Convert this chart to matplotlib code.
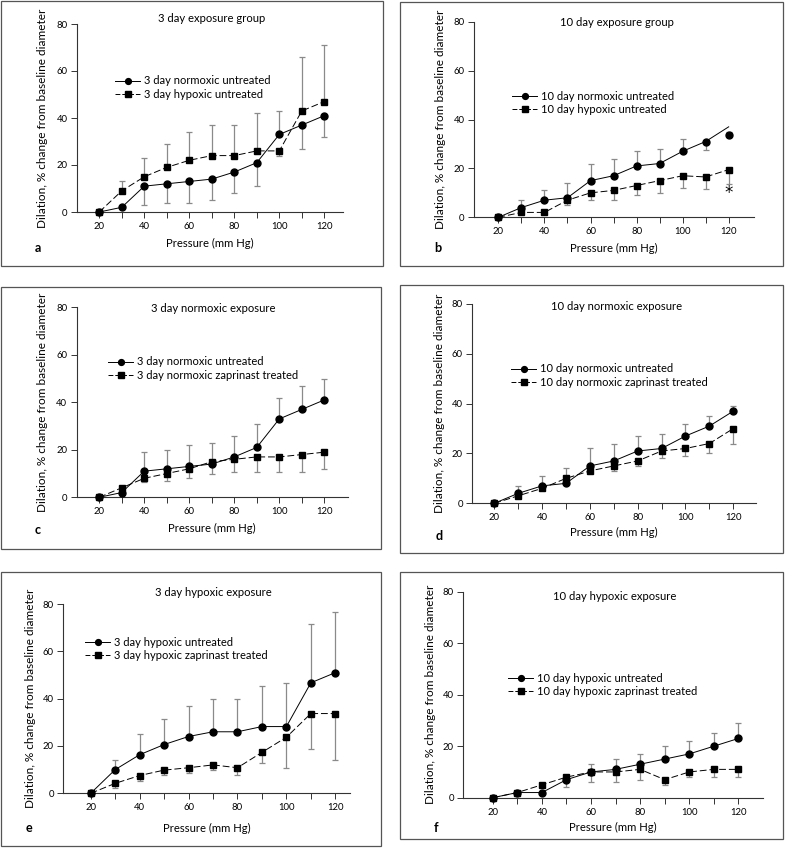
import numpy as np
import matplotlib
matplotlib.use('Agg')
import matplotlib.pyplot as plt
from matplotlib.patches import Rectangle
from matplotlib.lines import Line2D

plt.rcParams['font.family'] = ['Lato', 'DejaVu Sans']

# pressure steps (mm Hg)
pressure = [20, 30, 40, 50, 60, 70, 80, 90, 100, 110, 120]

# a: 3 day exposure group
a_norm = [0, 2, 11, 12, 13, 14, 17, 21, 33, 37, 41]
a_norm_lo = [0, 0, 8, 8, 9, 9, 9, 10, 0, 10, 9]
a_norm_hi = [0, 0, 0, 0, 0, 0, 0, 0, 10, 0, 0]
a_hyp = [0, 9, 15, 19, 22, 24, 24, 26, 26, 43, 47]
a_hyp_lo = [0, 0, 0, 0, 0, 0, 0, 0, 2, 0, 0]
a_hyp_hi = [0, 4, 8, 10, 12, 13, 13, 16, 0, 23, 24]

# b: 10 day exposure group
b_norm = [0, 4, 7, 8, 15, 17, 21, 22, 27, 31, 33.5]
b_norm_line = [0, 4, 7, 8, 15, 17, 21, 22, 27, 31, 37]
b_norm_lo = [0, 0, 0, 0, 0, 0, 0, 0, 0, 3.5, 0]
b_norm_hi = [0, 3, 4, 6, 7, 7, 6, 6, 5, 0, 1.5]
b_hyp = [0, 2, 2, 7, 10, 11, 13, 15, 17, 16.5, 19.5]
b_hyp_lo = [0, 0, 0, 2, 3, 4, 4, 5, 5, 5, 6]
b_hyp_hi = [0, 0, 0, 0, 0, 0, 0, 0, 0, 0, 0]

# c: 3 day normoxic exposure
c_norm = [0, 2, 11, 12, 13, 14, 17, 21, 33, 37, 41]
c_norm_lo = [0, 0, 0, 0, 0, 0, 0, 0, 0, 0, 0]
c_norm_hi = [0, 0, 8, 8, 9, 9, 9, 10, 9, 10, 9]
c_zap = [0, 4, 8, 10, 12, 15, 16, 17, 17, 18, 19]
c_zap_lo = [0, 1, 1.5, 3, 4, 5, 5.5, 6.5, 6.5, 7.5, 7]
c_zap_hi = [0, 0, 0, 0, 0, 0, 0, 0, 0, 0, 0]

# d: 10 day normoxic exposure
d_norm = [0, 4, 7, 8, 15, 17, 21, 22, 27, 31, 37]
d_norm_lo = [0, 0, 0, 0, 0, 0, 0, 0, 0, 0, 0]
d_norm_hi = [0, 3, 4, 6, 7, 7, 6, 6, 5, 4, 2]
d_zap = [0, 3, 6, 10, 13, 15, 17, 21, 22, 24, 30]
d_zap_lo = [0, 0, 0, 0, 0, 2, 2, 3, 3, 4, 6]
d_zap_hi = [0, 0, 0, 0, 0, 0, 0, 0, 0, 0, 0]

# e: 3 day hypoxic exposure
e_hyp = [0, 10, 16.3, 20.6, 24, 26, 26, 28.2, 28.2, 46.7, 51]
e_hyp_lo = [0, 0, 0, 0, 0, 0, 0, 0, 0, 0, 0]
e_hyp_hi = [0, 4, 8.6, 10.7, 12.7, 14, 14, 17.3, 18.3, 24.7, 25.8]
e_zap = [0, 4.2, 7.5, 9.8, 10.8, 12, 10.8, 17.3, 23.7, 33.7, 33.7]
e_zap_lo = [0, 2.1, 2.1, 2.1, 2.1, 2.1, 3.1, 4.3, 12.9, 15.1, 19.8]
e_zap_hi = [0, 0, 0, 0, 0, 0, 0, 0, 0, 0, 0]

# f: 10 day hypoxic exposure
f_hyp = [0, 2, 2, 7, 10, 11, 13, 15, 17, 20, 23]
f_hyp_lo = [0, 0, 0, 3, 0, 0, 0, 0, 0, 0, 0]
f_hyp_hi = [0, 0, 0, 0, 3, 4, 4, 5, 5, 5, 6]
f_zap = [0, 2, 5, 8, 10, 10, 11, 7, 10, 11, 11]
f_zap_lo = [0, 0, 0, 0, 4, 4, 4, 2, 2, 3, 3]
f_zap_hi = [0, 0, 0, 0, 0, 0, 0, 0, 0, 0, 0]

W, H = 787, 848
fig = plt.figure(figsize=(W / 100, H / 100), dpi=100)
renderer = fig.canvas.get_renderer()


def fx(x):
    return x / W


def fy(y):
    return 1 - y / H


def text_size(s, size=10):
    t = fig.text(0, 0, s, fontsize=size)
    bb = t.get_window_extent(renderer)
    t.remove()
    return bb.width, bb.height


def fit(s, target_px):
    # font size that makes string s about target_px wide
    w, _ = text_size(s)
    return 10 * target_px / w


FS_TICK = fit('120', 16.5)
FS_LEG = fit('3 day normoxic untreated', 126)
FS_YLAB = fit('Dilation, % change from baseline diameter', 218)
FS_XLAB = fit('Pressure (mm Hg)', 87)
FS_TITLE = fit('3 day exposure group', 107)

leg_px = FS_LEG * 100 / 72
_, leg_h = text_size('Ag', FS_LEG)

ERR_COL = '#8a8a8a'

panels = [
    dict(letter='a', title='3 day exposure group', ax=(77, 24, 343, 212), xlim=(10.1, 128.3),
         box=(1, 1, 383, 266), title_xy=(212, 18), leg=(115, 81), letter_xy=(38, 248),
         xlab_off=31, ylab_off=34,
         s1=(a_norm, a_norm, a_norm_lo, a_norm_hi, '3 day normoxic untreated'),
         s2=(a_hyp, a_hyp, a_hyp_lo, a_hyp_hi, '3 day hypoxic untreated')),
    dict(letter='b', title='10 day exposure group', ax=(474, 21.7, 754, 217.3), xlim=(9.4, 131),
         box=(400, 2, 783, 266), title_xy=(617, 23), leg=(512, 96), letter_xy=(438, 248),
         xlab_off=31, ylab_off=33,
         s1=(b_norm, b_norm_line, b_norm_lo, b_norm_hi, '10 day normoxic untreated'),
         s2=(b_hyp, b_hyp, b_hyp_lo, b_hyp_hi, '10 day hypoxic untreated')),
    dict(letter='c', title='3 day normoxic exposure', ax=(76.7, 307.3, 347.7, 497.3), xlim=(10, 130.4),
         box=(1, 287, 381, 549), title_xy=(213, 308), leg=(108, 362), letter_xy=(38, 530),
         xlab_off=31, ylab_off=34,
         s1=(c_norm, c_norm, c_norm_lo, c_norm_hi, '3 day normoxic untreated'),
         s2=(c_zap, c_zap, c_zap_lo, c_zap_hi, '3 day normoxic zaprinast treated')),
    dict(letter='d', title='10 day normoxic exposure', ax=(472.3, 304, 756, 503.3), xlim=(10.8, 129.5),
         box=(400, 285, 783, 553), title_xy=(617, 307), leg=(511, 369), letter_xy=(439, 536),
         xlab_off=29, ylab_off=33,
         s1=(d_norm, d_norm, d_norm_lo, d_norm_hi, '10 day normoxic untreated'),
         s2=(d_zap, d_zap, d_zap_lo, d_zap_hi, '10 day normoxic zaprinast treated')),
    dict(letter='e', title='3 day hypoxic exposure', ax=(63.3, 604, 350, 793.3), xlim=(8.8, 126),
         box=(1, 572, 381, 846), title_xy=(213, 592), leg=(85, 642), letter_xy=(29, 828),
         xlab_off=35, ylab_off=33,
         s1=(e_hyp, e_hyp, e_hyp_lo, e_hyp_hi, '3 day hypoxic untreated'),
         s2=(e_zap, e_zap, e_zap_lo, e_zap_hi, '3 day hypoxic zaprinast treated')),
    dict(letter='f', title='10 day hypoxic exposure', ax=(463.3, 591.7, 762.7, 797.7), xlim=(8, 129.9),
         box=(400, 572, 783, 839), title_xy=(615, 596), leg=(508, 678), letter_xy=(436, 828),
         xlab_off=30, ylab_off=33,
         s1=(f_hyp, f_hyp, f_hyp_lo, f_hyp_hi, '10 day hypoxic untreated'),
         s2=(f_zap, f_zap, f_zap_lo, f_zap_hi, '10 day hypoxic zaprinast treated')),
]

for p in panels:
    bl, bt, br, bb = p['box']
    fig.patches.append(Rectangle((fx(bl), fy(bb)), fx(br - bl), (bb - bt) / H,
                                 transform=fig.transFigure, fill=False,
                                 edgecolor='#555555', linewidth=0.9))

    l, t, r, b = p['ax']
    ax = fig.add_axes([fx(l), fy(b), fx(r - l), (b - t) / H])
    ax.set_xlim(*p['xlim'])
    ax.set_ylim(0, 80)
    ax.spines['top'].set_visible(False)
    ax.spines['right'].set_visible(False)
    for sp in ('left', 'bottom'):
        ax.spines[sp].set_color('#333333')
        ax.spines[sp].set_linewidth(0.8)
    ax.set_xticks(pressure)
    ax.set_xticklabels([str(v) if v % 20 == 0 else '' for v in pressure])
    ax.set_yticks([0, 20, 40, 60, 80])
    ax.tick_params(direction='out', length=4.3, width=0.7, colors='#333333',
                   labelsize=FS_TICK, labelcolor='black', pad=2.5)
    ax.tick_params(axis='x', pad=3)
    ax.set_xlabel('Pressure (mm Hg)', fontsize=FS_XLAB, va='center')
    ax.set_ylabel('Dilation, % change from baseline diameter', fontsize=FS_YLAB, va='center')
    ax.xaxis.set_label_coords(0.5, -p['xlab_off'] / (b - t))
    ax.yaxis.set_label_coords(-p['ylab_off'] / (r - l), 0.5)
    ax.patch.set_visible(False)

    handles = []
    for (vals, line_vals, lo, hi, lab), mk, ls, ms in ((p['s1'], 'o', '-', 5),
                                                       (p['s2'], 's', (0, (7, 3)), 4.5)):
        ax.errorbar(pressure, vals, yerr=[lo, hi], fmt='none', ecolor=ERR_COL,
                    elinewidth=0.9, capsize=2.2, capthick=0.9, zorder=2, clip_on=False)
        ax.plot(pressure, line_vals, color='black', linewidth=0.7, linestyle=ls,
                zorder=3, clip_on=False)
        ax.plot(pressure, vals, linestyle='none', marker=mk, markersize=ms,
                color='black', zorder=4, clip_on=False)
        handles.append(Line2D([], [], color='black', linewidth=0.7,
                              linestyle='-' if mk == 'o' else (0, (5, 2)),
                              marker=mk, markersize=ms - 0.8, label=lab))

    lx, ly = p['leg']
    fig.legend(handles=handles, loc='upper left',
               bbox_to_anchor=(fx(lx), fy(ly - leg_h / 2)),
               frameon=False, fontsize=FS_LEG, borderpad=0, borderaxespad=0,
               handlelength=25 / leg_px, handletextpad=4 / leg_px,
               labelspacing=(13.3 - leg_h) / leg_px)

    tx, ty = p['title_xy']
    fig.text(fx(tx), fy(ty), p['title'], ha='center', va='center', fontsize=FS_TITLE)
    lx2, ly2 = p['letter_xy']
    fig.text(fx(lx2), fy(ly2), p['letter'], ha='center', va='center',
             fontsize=FS_TITLE + 1, fontweight='bold')

    if p['letter'] == 'b':
        ax.text(120, 10, '*', ha='center', va='center', fontsize=12,
                family='DejaVu Sans')

fig.savefig('out.png', dpi=100)
